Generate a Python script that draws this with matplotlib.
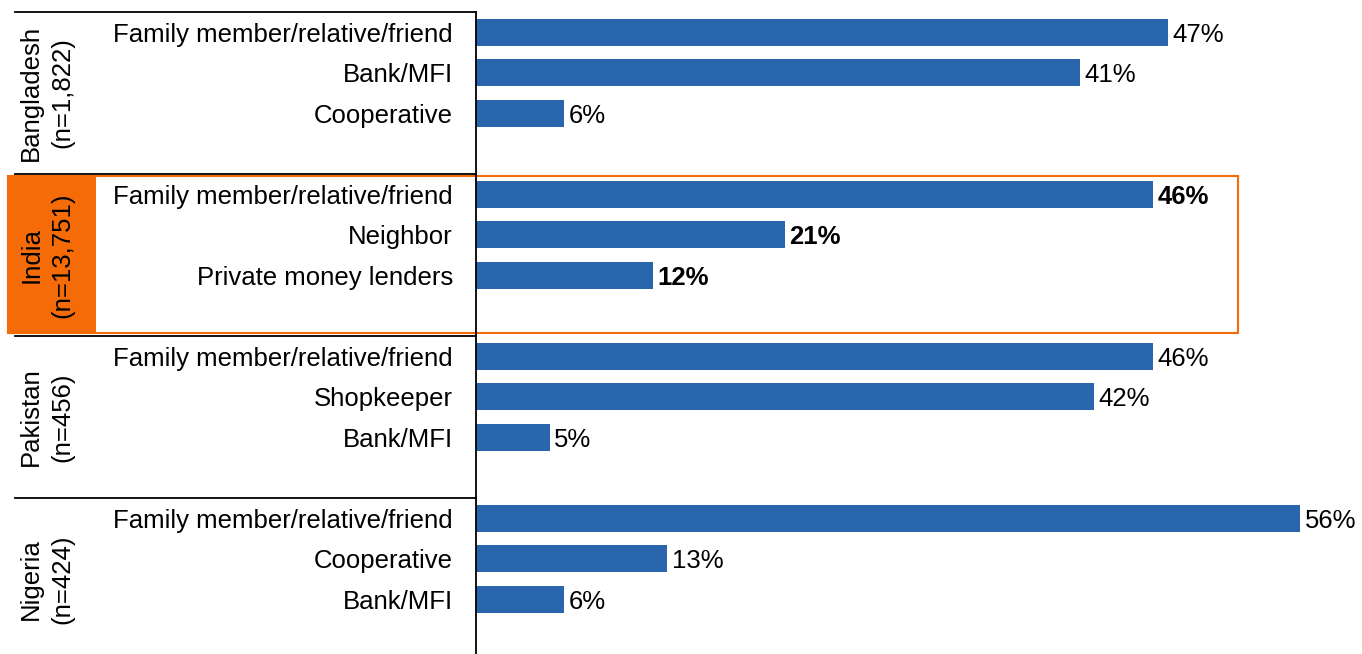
import matplotlib.pyplot as plt
from matplotlib import font_manager
from matplotlib.patches import Rectangle
from matplotlib.transforms import blended_transform_factory

countries = ['Bangladesh\n(n=1,822)', 'India\n(n=13,751)', 'Pakistan\n(n=456)', 'Nigeria\n(n=424)']
sources = [
    ['Family member/relative/friend', 'Bank/MFI', 'Cooperative'],
    ['Family member/relative/friend', 'Neighbor', 'Private money lenders'],
    ['Family member/relative/friend', 'Shopkeeper', 'Bank/MFI'],
    ['Family member/relative/friend', 'Cooperative', 'Bank/MFI'],
]
shares = [
    [47, 41, 6],
    [46, 21, 12],
    [46, 42, 5],
    [56, 13, 6],
]
highlight = 'India\n(n=13,751)'

BLUE = '#2A66AD'
ORANGE = '#F56B08'
FS = 18.5

# pick the regular-width Liberation Sans files, not the Narrow variant
def find_font(stem):
    for f in font_manager.fontManager.ttflist:
        if f.fname.endswith(stem):
            return font_manager.FontProperties(fname=f.fname, size=FS)
    return font_manager.FontProperties(family='DejaVu Sans', size=FS)

reg = find_font('LiberationSans-Regular.ttf')
bld = find_font('LiberationSans-Bold.ttf')

W, H = 1362, 654
fig = plt.figure(figsize=(W / 100, H / 100), dpi=100)
# 4 slots per country (3 bars + spacer); axes runs a little past the bottom edge
ax_left, ax_top, slot = 476, 12, 40.5
ax_h = 16 * slot
ax = fig.add_axes([ax_left / W, (H - ax_top - ax_h) / H, (W - ax_left) / W, ax_h / H])
ax.set_ylim(16, 0)
ax.set_xlim(0, (W - ax_left) / 14.72)
ax.axis('off')

# figure-x (pixels -> fraction) blended with data-y
trans = blended_transform_factory(fig.transFigure, ax.transData)

def fx(px):
    return px / W

for g, (country, labels, vals) in enumerate(zip(countries, sources, shares)):
    base = g * 4
    bold = country == highlight
    for i, (lab, v) in enumerate(zip(labels, vals)):
        y = base + i + 0.5
        ax.barh(y, v, height=0.67, color=BLUE, edgecolor='none')
        ax.text(v + 0.3, y, f'{v}%', va='center_baseline', ha='left',
                fontproperties=bld if bold else reg)
        ax.text(fx(453), y, lab, transform=trans, ha='right', va='center_baseline',
                fontproperties=reg)
    if bold:
        ax.add_patch(Rectangle((fx(8), base + 0.06), fx(96) - fx(8), 3.86,
                               transform=trans, facecolor=ORANGE, edgecolor='none',
                               clip_on=False, zorder=0))
        ax.add_patch(Rectangle((fx(8), base + 0.06), fx(1238) - fx(8), 3.86,
                               transform=trans, facecolor='none', edgecolor=ORANGE,
                               linewidth=1.5, clip_on=False, zorder=3))
    ax.text(fx(47), base + 2, country, transform=trans, rotation=90,
            ha='center', va='center', fontproperties=reg,
            multialignment='center', linespacing=1.4)
    # separator above each country block
    ax.plot([fx(15), fx(476)], [base, base], transform=trans, color='black',
            linewidth=1.3, clip_on=False, zorder=4)

# category axis line
ax.plot([fx(476), fx(476)], [0, 16], transform=trans, color='black',
        linewidth=1.3, clip_on=False, zorder=4)

fig.savefig('out.png', dpi=100)
